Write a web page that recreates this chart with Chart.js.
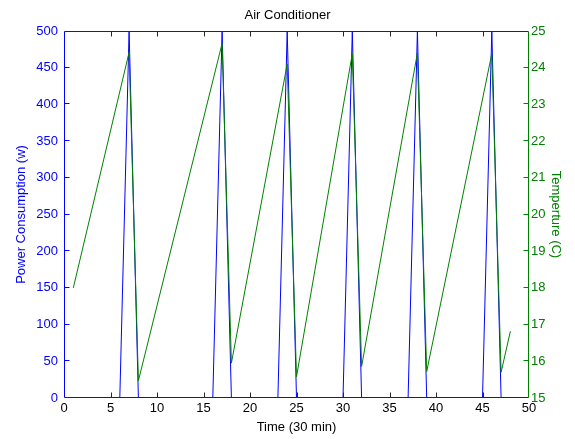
<!DOCTYPE html>
<html><head><meta charset="utf-8">
<script src="https://cdn.jsdelivr.net/npm/chart.js@4/dist/chart.umd.min.js"></script>
<style>html,body{margin:0;padding:0;background:#fff}canvas{display:block}</style>
</head><body>
<canvas id="c" width="575" height="439"></canvas>
<script>
const chartTitle = 'Air Conditioner';
const xLabel = 'Time (30 min)';
const leftLabel = 'Power Consumption (w)';
const rightLabel = 'Temperture (C)';

const xRange = [0, 50];
const powerRange = [0, 500];
const tempRange = [15, 25];

// Power consumption (w) vertices
const powerTime  = [1, 6, 7, 8, 16, 17, 18, 23, 24, 25, 30, 31, 32, 37, 38, 39, 45, 46, 47, 48];
const powerWatts = [0, 0, 500, 0, 0, 500, 0, 0, 500, 0, 0, 500, 0, 0, 500, 0, 0, 500, 0, 0];

// Temperature (C) vertices
const tempTime = [1, 7, 8, 17, 18, 24, 25, 31, 32, 38, 39, 46, 47, 48];
const tempC    = [18.0, 24.42, 15.47, 24.66, 15.95, 24.1, 15.58, 24.38, 15.86, 24.4, 15.72, 24.38, 15.7, 16.82];

const BLUE = '#0000ff', GREEN = '#008000', DARK = '#262626';
const FONT = { family: 'Liberation Sans, Arial, sans-serif', size: 13, weight: 'normal' };

const toPts = (xs, ys) => xs.map((x, i) => ({ x, y: ys[i] }));

const framePlugin = {
  id: 'frame',
  afterDatasetsDraw(chart) {
    const { ctx, chartArea: a, scales } = chart;
    const L = a.left + 0.5, R = a.right - 0.5, T = a.top + 0.5, B = a.bottom - 0.5;
    const tl = 5;
    const inner = (ticks) => ticks.slice(1, -1);
    ctx.save();
    ctx.lineWidth = 1;
    ctx.strokeStyle = DARK;
    ctx.beginPath();
    inner(scales.x.ticks).forEach(t => {
      const p = Math.round(scales.x.getPixelForValue(t.value)) + 0.5;
      ctx.moveTo(p, B); ctx.lineTo(p, B - tl);
      ctx.moveTo(p, T); ctx.lineTo(p, T + tl);
    });
    ctx.moveTo(L, T); ctx.lineTo(R, T);
    ctx.moveTo(L, B); ctx.lineTo(R, B);
    ctx.stroke();
    ctx.strokeStyle = BLUE;
    ctx.beginPath();
    inner(scales.yL.ticks).forEach(t => {
      const p = Math.round(scales.yL.getPixelForValue(t.value)) - 0.5;
      ctx.moveTo(L, p); ctx.lineTo(L + tl, p);
    });
    ctx.moveTo(L, T); ctx.lineTo(L, B);
    ctx.stroke();
    ctx.strokeStyle = GREEN;
    ctx.beginPath();
    inner(scales.yR.ticks).forEach(t => {
      const p = Math.round(scales.yR.getPixelForValue(t.value)) - 0.5;
      ctx.moveTo(R, p); ctx.lineTo(R - tl, p);
    });
    ctx.moveTo(R, T); ctx.lineTo(R, B);
    ctx.stroke();
    ctx.restore();
  }
};

new Chart(document.getElementById('c'), {
  type: 'scatter',
  data: {
    datasets: [
      { label: 'Temperature', data: toPts(tempTime, tempC), yAxisID: 'yR',
        showLine: true, borderColor: GREEN, borderWidth: 1, pointRadius: 0, clip: 0 },
      { label: 'Power', data: toPts(powerTime, powerWatts), yAxisID: 'yL',
        showLine: true, borderColor: BLUE, borderWidth: 1, pointRadius: 0, clip: 0 }
    ]
  },
  options: {
    responsive: false,
    devicePixelRatio: 1,
    animation: false,
    layout: { padding: 0 },
    plugins: {
      legend: { display: false },
      tooltip: { enabled: false },
      title: { display: true, text: chartTitle, color: '#000', font: FONT,
               padding: { top: 8, bottom: 7.4 } }
    },
    scales: {
      x: {
        type: 'linear', position: 'bottom', min: xRange[0], max: xRange[1],
        grid: { display: false, drawTicks: false }, border: { display: false },
        ticks: { stepSize: 5, color: '#000', font: FONT, padding: 3, maxRotation: 0 },
        title: { display: true, text: xLabel, color: '#000', font: FONT, padding: { top: 0, bottom: 4 } },
        afterFit: s => { s.height = 41; }
      },
      yL: {
        type: 'linear', position: 'left', min: powerRange[0], max: powerRange[1],
        grid: { display: false, drawTicks: false }, border: { display: false },
        ticks: { stepSize: 50, color: BLUE, font: FONT, padding: 6 },
        title: { display: true, text: leftLabel, color: BLUE, font: FONT, padding: { top: 14, bottom: 0 } },
        afterFit: s => { s.width = 64; }
      },
      yR: {
        type: 'linear', position: 'right', min: tempRange[0], max: tempRange[1],
        grid: { display: false, drawTicks: false }, border: { display: false },
        ticks: { stepSize: 1, color: GREEN, font: FONT, padding: 2 },
        title: { display: true, text: rightLabel, color: GREEN, font: FONT, padding: { top: 12, bottom: 0 } },
        afterFit: s => { s.width = 46; }
      }
    }
  },
  plugins: [framePlugin]
});
</script>
</body></html>
